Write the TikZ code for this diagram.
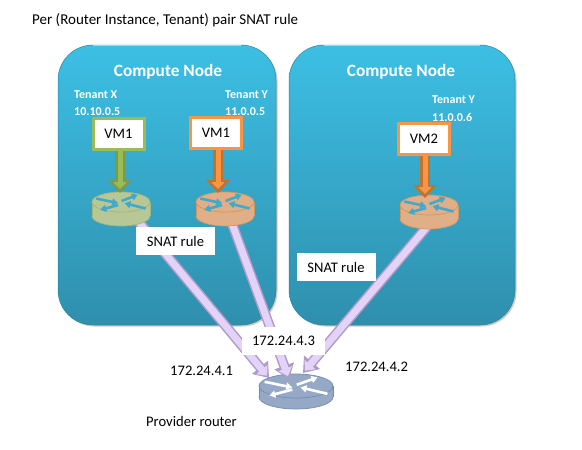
\documentclass[tikz,border=0pt]{standalone}
\usepackage{fontspec}
\setmainfont{Carlito}
\usetikzlibrary{arrows.meta,shadings}
\definecolor{paneltop}{HTML}{3CBFE4}
\definecolor{panelbot}{HTML}{2F8FAD}
\definecolor{greenline}{HTML}{9BBB59}
\definecolor{greendark}{HTML}{7F9A47}
\definecolor{greenfill}{HTML}{B8C796}
\definecolor{greenedge}{HTML}{A3B57C}
\definecolor{orangeline}{HTML}{F79646}
\definecolor{orangedark}{HTML}{C0722F}
\definecolor{orangefill}{HTML}{E0AF87}
\definecolor{orangeedge}{HTML}{D2955F}
\definecolor{provfill}{HTML}{95A9C7}
\definecolor{provedge}{HTML}{6F8DB5}
\definecolor{purpin}{HTML}{E4D3F8}
\definecolor{purpout}{HTML}{AE9BC6}
\definecolor{icon}{HTML}{3FA9CE}
\tikzset{
  x=1pt,y=-1pt,
  panel/.style={rounded corners=35pt,top color=paneltop,bottom color=panelbot,draw=paneltop!70!black,line width=0.5pt},
  panelshadow/.style={rounded corners=35pt,fill=black!45,opacity=0.45},
  vmbox/.style={fill=white,line width=3pt,minimum width=51pt,minimum height=31pt,inner sep=0pt,font=\fontsize{14.6}{16}\selectfont},
  whitelabel/.style={fill=white,inner sep=0pt,font=\fontsize{14.6}{16}\selectfont},
  plain/.style={inner sep=0pt,font=\fontsize{14.6}{16}\selectfont},
  head/.style={inner sep=0pt,text=white,font=\fontsize{17.3}{19}\selectfont\bfseries},
  tenant/.style={inner sep=0pt,anchor=west,text=white,font=\fontsize{12}{14}\selectfont\bfseries},
  outerflow/.style={line width=10pt,purpout,-{Triangle[length=14pt,width=20pt]}},
  innerflow/.style={line width=7pt,purpin,-{Triangle[length=8pt,width=14pt]},shorten >=3pt},
  vmouter/.style={line width=10pt,-{Triangle[length=13pt,width=23pt]}},
  vminner/.style={line width=5pt,-{Triangle[length=7pt,width=13pt]},shorten >=4pt},
  ricon/.style={line width=2.6pt,-{Triangle[length=6pt,width=7pt]}}
}
% #1 name, #2 x, #3 top-ellipse y, #4 rx, #5 ry, #6 height, #7 fill, #8 edge, #9 icon colour
\newcommand{\routericon}[9]{%
  \coordinate (#1) at (#2,#3);
  \fill[#7,draw=#8,line width=0.7pt] (#2,#3+#6) ellipse[x radius=#4,y radius=#5];
  \fill[#7] (#2-#4,#3) rectangle (#2+#4,#3+#6);
  \draw[#8,line width=0.7pt] (#2-#4,#3) -- (#2-#4,#3+#6) (#2+#4,#3) -- (#2+#4,#3+#6);
  \fill[#7,draw=#8,line width=0.7pt] (#2,#3) ellipse[x radius=#4,y radius=#5];
  \begin{scope}[shift={(#2,#3)},xscale=#4,yscale=#5]
    \draw[ricon,#9] (-0.85,-0.35) -- (-0.1,0.12);
    \draw[ricon,#9] (0.85,0.65) -- (0.12,0.12);
    \draw[ricon,#9] (0.02,-0.1) -- (0.58,-0.72);
    \draw[ricon,#9] (-0.1,0.3) -- (-0.72,0.8);
  \end{scope}
}
\begin{document}
\begin{tikzpicture}
\useasboundingbox (0,0) rectangle (582,450);
\fill[white] (0,0) rectangle (582,450);
% panels
\fill[panelshadow] (59.5,46.5) rectangle (277.5,326.5);
\fill[panelshadow] (290.5,46.5) rectangle (516.5,326.5);
\path[panel] (58,45) rectangle (276,325);
\path[panel] (289,45) rectangle (515,325);
\draw[paneltop!55!white,line width=1.2pt] (93,45.6) -- (241,45.6);
\draw[paneltop!55!white,line width=1.2pt] (324,45.6) -- (480,45.6);
\node[head] (cn1) at (168,72) {Compute Node};
\node[head] (cn2) at (401,72) {Compute Node};
% provider router
\routericon{prov}{296}{386}{37}{12}{11}{provfill}{provedge}{white}
% connector anchors
\coordinate (gout) at (133,215);
\coordinate (oout) at (230,218);
\coordinate (rout) at (431,222);
\coordinate (tip1) at (269,378);
\coordinate (tip2) at (289,379);
\coordinate (tip3) at (303,373);
\foreach \a/\b in {gout/tip1,oout/tip2,rout/tip3}{
  \draw[outerflow] (\a) -- (\b);
  \draw[innerflow] (\a) -- (\b);
}
% routers
\routericon{rg}{121}{202}{29}{10}{14}{greenfill}{greenedge}{icon}
\routericon{ro}{225}{202}{29}{10}{14}{orangefill}{orangeedge}{icon}
\routericon{rr}{429}{205}{29}{10}{14}{orangefill}{orangeedge}{icon}
% VMs
\node[vmbox,draw=greenline] (vm1) at (118.5,133.5) {VM1};
\node[vmbox,draw=orangeline] (vm2) at (216,132.5) {VM1};
\node[vmbox,draw=orangeline] (vm3) at (424,138.5) {VM2};
\coordinate (rgt) at (120,193);
\coordinate (rot) at (218,193);
\coordinate (rrt) at (425,198);
\draw[vmouter,greendark] (rgt|-vm1.south) -- (rgt);
\draw[vminner,greenline] (rgt|-vm1.south) -- (rgt);
\draw[vmouter,orangedark] (rot|-vm2.south) -- (rot);
\draw[vminner,orangeline] (rot|-vm2.south) -- (rot);
\draw[vmouter,orangedark] (rrt|-vm3.south) -- (rrt);
\draw[vminner,orangeline] (rrt|-vm3.south) -- (rrt);
% white labels
\node[whitelabel,minimum width=79pt,minimum height=28pt] (s1) at (175.5,241) {SNAT rule};
\node[whitelabel,minimum width=79pt,minimum height=28pt] (s2) at (336,267) {SNAT rule};
\node[whitelabel,minimum width=83pt,minimum height=28pt] (s3) at (283.5,341) {172.24.4.3};
% tenants
\node[tenant] (t1) at (74,95) {Tenant X};
\node[tenant] (a1) at (74,112) {10.10.0.5};
\node[tenant] (t2) at (225,95) {Tenant Y};
\node[tenant] (a2) at (225,112) {11.0.0.5};
\node[tenant] (t3) at (432,100) {Tenant Y};
\node[tenant] (a3) at (432,117) {11.0.0.6};
% plain labels
\node[plain,anchor=west,font=\fontsize{15}{16}\selectfont] (title) at (32,20) {Per (Router Instance, Tenant) pair SNAT rule};
\node[plain,anchor=west] (ip1) at (170,371) {172.24.4.1};
\node[plain,anchor=west] (ip2) at (345,367) {172.24.4.2};
\node[plain,anchor=west] (pr) at (146,421) {Provider router};
\end{tikzpicture}
\end{document}
